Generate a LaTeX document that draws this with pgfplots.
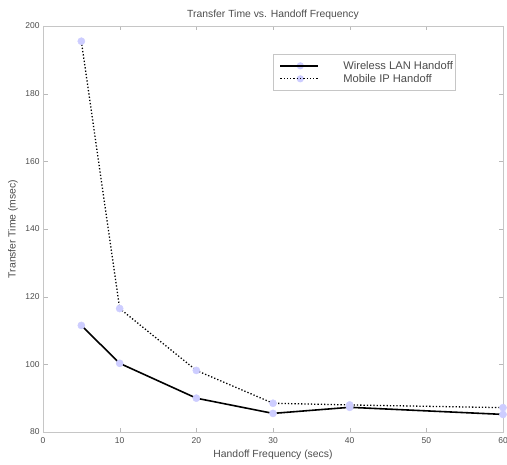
\documentclass[border=0pt]{standalone}
\usepackage{fontspec}
\setmainfont{Liberation Sans}
\usepackage{pgfplots}
\usepackage{pgfplotstable}
\pgfplotsset{compat=1.18}

\pgfplotstableread{
x   wlan   mip
5   111.5  195.5
10  100.3  116.5
20  90.0   98.2
30  85.5   88.5
40  87.3   88.0
60  85.2   87.2
}\handoff

\definecolor{txt}{gray}{0.3}
\definecolor{mk}{RGB}{205,205,255}

\begin{document}
\begin{tikzpicture}
\begin{axis}[
    scale only axis, width=460bp, height=406bp,
    xmin=0, xmax=60, ymin=80, ymax=200,
    xtick={0,10,...,60}, ytick={80,100,...,200},
    tick align=inside, major tick length=4.5bp,
    axis line style={gray!45, line width=0.8pt},
    tick style={gray!55},
    every tick label/.append style={font=\fontsize{8.5}{9}\selectfont, text=txt},
    xticklabel style={yshift=-2bp},
    /pgf/number format/assume math mode=true,
    title={Transfer Time vs. Handoff Frequency},
    title style={font=\fontsize{10.4}{12}\selectfont, text=txt,
        at={(axis description cs:0.5,1.0295)}, anchor=center, yshift=-7bp},
    xlabel={Handoff Frequency (secs)},
    ylabel={Transfer Time (msec)},
    label style={font=\fontsize{10.4}{12}\selectfont, text=txt},
    xlabel style={at={(axis description cs:0.5,-0.0565)}, anchor=center},
    ylabel style={at={(axis description cs:-0.0652,0.5)}, anchor=center},
    legend style={at={(rel axis cs:0.5,0.931)}, anchor=north west,
        draw=gray!45, line width=0.6pt, font=\fontsize{11.2}{12}\selectfont,
        text=txt, inner xsep=2bp, inner ysep=5bp, row sep=0pt,
        nodes={inner sep=0pt}, cells={anchor=west}},
    legend image code/.code={
        \path[draw=none, fill=none] (-5bp,-6.5bp) rectangle (63bp,6.5bp);
        \fill[mk, draw=none] (20bp,0bp) circle (3.6bp);
        \draw[#1] (0bp,0bp) -- (38bp,0bp);
    },
]
\addplot[only marks, mark=*, mark size=3.6bp, mark options={fill=mk, draw=mk}, forget plot] table[x=x, y=wlan] {\handoff};
\addplot[only marks, mark=*, mark size=3.6bp, mark options={fill=mk, draw=mk}, forget plot] table[x=x, y=mip] {\handoff};
\addplot[black, line width=1.6pt, mark=none] table[x=x, y=wlan] {\handoff};
\addplot[black, line width=1.3pt, dotted, mark=none] table[x=x, y=mip] {\handoff};
\legend{Wireless LAN Handoff, Mobile IP Handoff}
\end{axis}
\pgfresetboundingbox
\path[use as bounding box] ([shift={(-43bp,-32bp)}]current axis.south west) rectangle ([shift={(4bp,26bp)}]current axis.north east);
\end{tikzpicture}
\end{document}
